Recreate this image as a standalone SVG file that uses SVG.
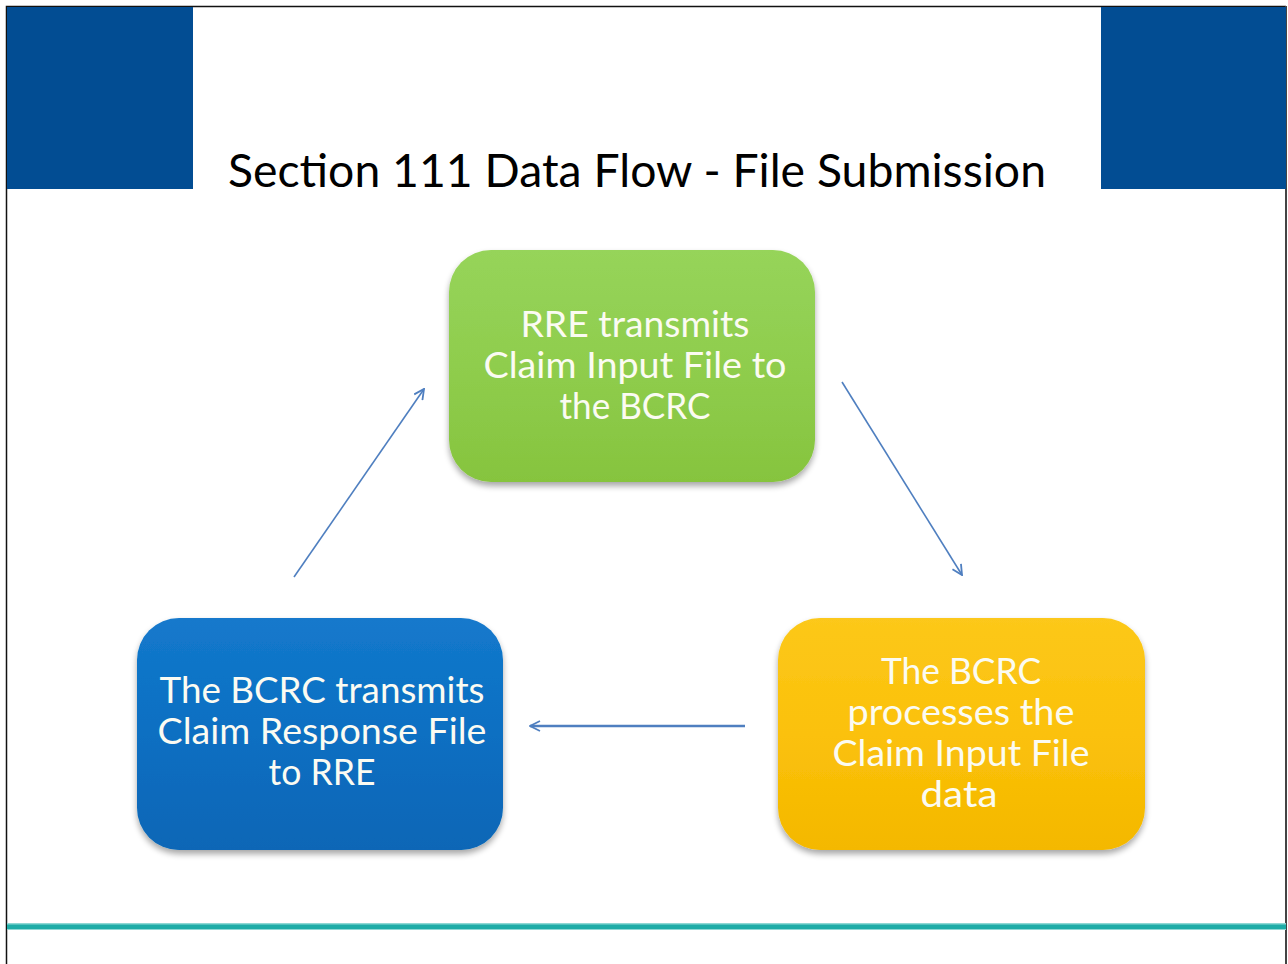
<svg xmlns="http://www.w3.org/2000/svg" width="1288" height="964" viewBox="0 0 1288 964">
  <style>
    .title { font-family: Lato, "Open Sans", "Liberation Sans", sans-serif; font-size: 47px; fill: #000; }
    .lbl { font-family: Lato, "Open Sans", "Liberation Sans", sans-serif; font-size: 36px; fill: #fbfbf2; text-anchor: middle; }
    .conn { stroke: #4f7fc0; stroke-width: 1.6; fill: none; marker-end: url(#arr); }
    .conn.thick { stroke-width: 2.6; }
  </style>
  <defs>
    <linearGradient id="gGreen" x1="0" y1="0" x2="0" y2="1">
      <stop offset="0" stop-color="#96d45a"/>
      <stop offset="0.5" stop-color="#8fcd4d"/>
      <stop offset="1" stop-color="#86c43e"/>
    </linearGradient>
    <linearGradient id="gBlue" x1="0" y1="0" x2="0" y2="1">
      <stop offset="0" stop-color="#1479cc"/>
      <stop offset="0.5" stop-color="#0a6fc2"/>
      <stop offset="1" stop-color="#0766b6"/>
    </linearGradient>
    <linearGradient id="gYellow" x1="0" y1="0" x2="0" y2="1">
      <stop offset="0" stop-color="#fcc81a"/>
      <stop offset="0.5" stop-color="#fbc10a"/>
      <stop offset="1" stop-color="#f4b800"/>
    </linearGradient>
    <filter id="sh" x="-10%" y="-10%" width="120%" height="125%">
      <feGaussianBlur in="SourceAlpha" stdDeviation="3"/>
      <feOffset dx="0" dy="4" result="b"/>
      <feComponentTransfer><feFuncA type="linear" slope="0.35"/></feComponentTransfer>
      <feMerge><feMergeNode/><feMergeNode in="SourceGraphic"/></feMerge>
    </filter>
    <marker id="arr" viewBox="0 0 12 12" refX="11" refY="6" markerWidth="12" markerHeight="12" markerUnits="userSpaceOnUse" orient="auto">
      <path d="M1,1 L11,6 L1,11" fill="none" stroke="#4f7fc0" stroke-width="1.8"/>
    </marker>
  </defs>

  <rect x="0" y="0" width="1288" height="964" fill="#ffffff"/>
  <!-- frame -->
  <path d="M6.5,964 V6.5 H1286" fill="none" stroke="#111" stroke-width="1.5"/>
  <line x1="1286" y1="6" x2="1286" y2="964" stroke="#444" stroke-width="2"/>
  <!-- header blocks -->
  <rect x="7" y="7" width="186" height="182" fill="#024d93"/>
  <rect x="1101" y="7" width="185" height="182" fill="#024d93"/>
  <!-- footer line -->
  <rect x="7" y="923" width="1279" height="7" fill="#8fd8d4"/>
  <rect x="7" y="924.5" width="1279" height="4.5" fill="#1eaca7"/>

  <text class="title" x="228" y="187" textLength="818" lengthAdjust="spacingAndGlyphs">Section 111 Data Flow - File Submission</text>

  <g id="connectors">
    <line class="conn" x1="842" y1="382" x2="962" y2="575"/>
    <line class="conn thick" x1="745" y1="726" x2="530" y2="726"/>
    <line class="conn" x1="294" y1="577" x2="424" y2="389"/>
  </g>

  <g id="node-rre">
    <rect x="449" y="250" width="366" height="232" rx="42" ry="42" fill="url(#gGreen)" filter="url(#sh)"/>
    <text class="lbl" x="635" y="337" textLength="229" lengthAdjust="spacingAndGlyphs">RRE transmits</text>
    <text class="lbl" x="635" y="378" textLength="303" lengthAdjust="spacingAndGlyphs">Claim Input File to</text>
    <text class="lbl" x="635" y="419" textLength="151" lengthAdjust="spacingAndGlyphs">the BCRC</text>
  </g>

  <g id="node-process">
    <rect x="778" y="618" width="367" height="232" rx="42" ry="42" fill="url(#gYellow)" filter="url(#sh)"/>
    <text class="lbl" x="961" y="684" textLength="160" lengthAdjust="spacingAndGlyphs">The BCRC</text>
    <text class="lbl" x="961" y="725" textLength="227" lengthAdjust="spacingAndGlyphs">processes the</text>
    <text class="lbl" x="961" y="766" textLength="257" lengthAdjust="spacingAndGlyphs">Claim Input File</text>
    <text class="lbl" x="959" y="807" textLength="77" lengthAdjust="spacingAndGlyphs">data</text>
  </g>

  <g id="node-response">
    <rect x="137" y="618" width="366" height="232" rx="42" ry="42" fill="url(#gBlue)" filter="url(#sh)"/>
    <text class="lbl" x="322" y="703" textLength="325" lengthAdjust="spacingAndGlyphs">The BCRC transmits</text>
    <text class="lbl" x="322" y="744" textLength="329" lengthAdjust="spacingAndGlyphs">Claim Response File</text>
    <text class="lbl" x="322" y="785" textLength="107" lengthAdjust="spacingAndGlyphs">to RRE</text>
  </g>
</svg>
